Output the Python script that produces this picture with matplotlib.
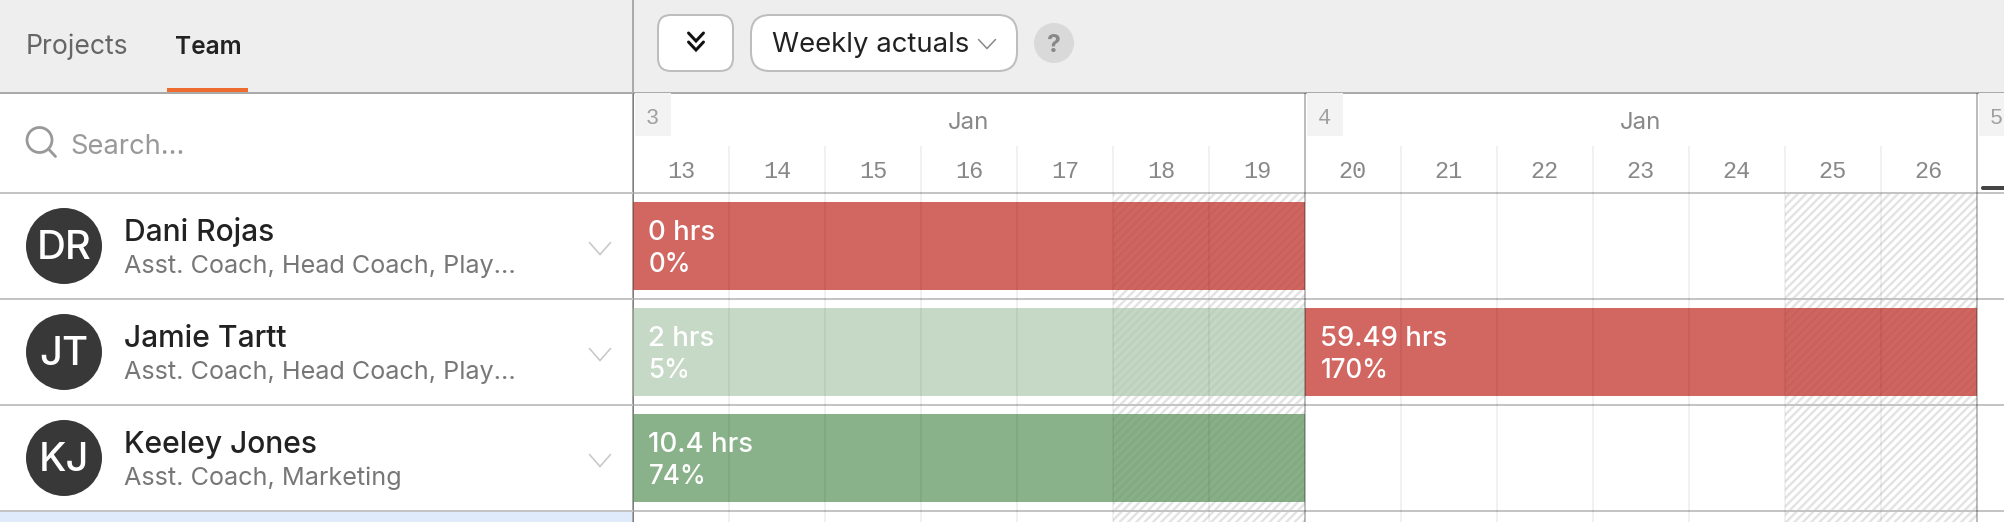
import matplotlib
matplotlib.use("Agg")
import matplotlib.pyplot as plt
from matplotlib.patches import FancyBboxPatch, Circle, Rectangle

W, H = 2004, 522
FONT = "Inter"
MONO = "Liberation Mono"

# --- data ---
people = ["Dani Rojas", "Jamie Tartt", "Keeley Jones"]
initials = ["DR", "JT", "KJ"]
roles = ["Asst. Coach, Head Coach, Play...", "Asst. Coach, Head Coach, Play...", "Asst. Coach, Marketing"]
week_numbers = [3, 4, 5]
week_months = ["Jan", "Jan"]
days = [13, 14, 15, 16, 17, 18, 19, 20, 21, 22, 23, 24, 25, 26]
weekend_days = [18, 19, 25, 26]
bar_rows = [0, 1, 1, 2]
bar_weeks = [0, 0, 1, 0]
bar_hours = ["0 hrs", "2 hrs", "59.49 hrs", "10.4 hrs"]
bar_percents = ["0%", "5%", "170%", "74%"]
bar_colors = ["#d26661", "#c6d9c6", "#d26661", "#8ab28a"]

# --- layout in pixels ---
DIV_X, HEAD_Y, ROW_TOP, ROW_H, DAY_W = 633, 93, 193, 106, 96
C_LINE, C_LINE_DK = "#c4c4c4", "#aaaaaa"
px = 0.72  # one pixel at dpi 100, in points

fig = plt.figure(figsize=(W / 100, H / 100), dpi=100, facecolor="white")
ui = fig.add_axes([0, 0, 1, 1], zorder=0)
ui.set_xlim(0, W); ui.set_ylim(H, 0); ui.axis("off")
g = fig.add_axes([DIV_X / W, 0, 1 - DIV_X / W, 1 - HEAD_Y / H], zorder=1)
g.set_xlim(0, (W - DIV_X) / DAY_W)
ys = lambda p: (p - ROW_TOP) / ROW_H
g.set_ylim(ys(H), ys(HEAD_Y)); g.axis("off")


def box(x0, y0, x1, y1, r, fc, ec="none", lw=0, z=2):
    ui.add_patch(FancyBboxPatch((x0 + r, y0 + r), x1 - x0 - 2 * r, y1 - y0 - 2 * r,
                                boxstyle=f"round,pad={r},rounding_size={r}", fc=fc, ec=ec,
                                lw=lw * px, zorder=z))


def txt(x, y, s, size, color, ha="left", weight="normal", family=FONT, z=5):
    ui.text(x, y, s, fontsize=size * px, color=color, ha=ha, va="baseline",
            weight=weight, family=family, zorder=z)


def chevron(cx, cy, w, h, color, lw):
    ui.plot([cx - w / 2, cx, cx + w / 2], [cy - h / 2, cy + h / 2, cy - h / 2], color=color,
            lw=lw * px, zorder=5, solid_capstyle="round", solid_joinstyle="miter")


# header band
ui.add_patch(Rectangle((0, 0), W, HEAD_Y, fc="#eeeeee", ec="none", zorder=1))
txt(26, 54.5, "Projects", 26.5, "#666666")
txt(175, 54.5, "Team", 24.5, "#222222", weight="semibold")
ui.add_patch(Rectangle((167, 88), 81, 4, fc="#ee6c2f", ec="none", zorder=2))

# toolbar
box(658, 15, 733, 71, 13, "white", "#bdbdbd", 2)
chevron(696, 37, 15, 8, "#111111", 3)
chevron(696, 46, 15, 8, "#111111", 3)
box(751, 15, 1017, 71, 19, "white", "#bdbdbd", 2)
txt(772, 52.5, "Weekly actuals", 27.5, "#222222")
chevron(987, 44, 17, 9, "#888888", 1.5)
ui.add_patch(Circle((1054, 43), 20, fc="#d9d9d9", ec="none", zorder=2))
txt(1054, 52, "?", 25, "#888888", ha="center", weight="bold")

# search
ui.add_patch(Circle((39.5, 140), 12.5, fc="none", ec="#999999", lw=2.8 * px, zorder=3))
ui.plot([48.5, 55.5], [149, 156.5], color="#999999", lw=2.8 * px, zorder=3, solid_capstyle="round")
txt(70, 153.5, "Search...", 27.3, "#999999")

# people
for i, (name, ini, role) in enumerate(zip(people, initials, roles)):
    top = ROW_TOP + i * ROW_H
    ui.add_patch(Circle((64, top + 53), 38, fc="#383838", ec="none", zorder=3))
    txt(64, top + 66, ini, 40, "white", ha="center", weight="medium")
    txt(124, top + 48, name, 30, "#222222", weight="medium")
    txt(124, top + 80, role, 25.2, "#777777")
    chevron(600, top + 55.5, 21, 12, "#c8c8c8", 1.6)

ui.add_patch(Rectangle((0, 512), DIV_X, 10, fc="#dfeafa", ec="none", zorder=1))

# weekend hatch on the white grid
plt.rcParams["hatch.linewidth"] = 2.4 * px
for d in weekend_days:
    k = days.index(d)
    g.bar(k + 0.5, ys(H), bottom=0, width=1, fc="none", ec=(0, 0, 0, 0.11),
          hatch="////", lw=0, zorder=1.5)

# gantt bars
for r, wk, hrs, pct, c in zip(bar_rows, bar_weeks, bar_hours, bar_percents, bar_colors):
    g.barh(r + 0.5, 7, left=wk * 7, height=88 / ROW_H, color=c, lw=0, zorder=2)
    for d in weekend_days:
        k = days.index(d)
        if wk * 7 <= k < (wk + 1) * 7:
            g.barh(r + 0.5, 1, left=k, height=88 / ROW_H, fc=(0, 0, 0, 0.006), ec=(0, 0, 0, 0.035),
                   hatch="////", lw=0, zorder=3)
    g.text(wk * 7 + 15.5 / DAY_W, r + 0.5 + (-6) / ROW_H, hrs, fontsize=27.5 * px, color="white",
           va="baseline", family=FONT, weight="medium", zorder=6)
    g.text(wk * 7 + 15.5 / DAY_W, r + 0.5 + 26 / ROW_H, pct, fontsize=26 * px, color="white",
           va="baseline", family=FONT, weight="medium", zorder=6)

# day & week grid lines
low = ys(H)
for k in range(len(days)):
    if k % 7:
        g.plot([k, k], [ys(146), low], color="black", alpha=0.055, lw=2 * px,
               solid_capstyle="butt", zorder=4)
    g.text(k + 0.5, ys(178), str(days[k]), fontsize=23.5 * px, color="#888888", ha="center",
           va="baseline", family=MONO, zorder=6)
for j, wn in enumerate(week_numbers):
    x = j * 7
    g.plot([x, x], [ys(HEAD_Y), low], color="black", alpha=0.26, lw=2 * px,
           solid_capstyle="butt", zorder=4)
    g.add_patch(FancyBboxPatch((x + 1.5 / DAY_W, ys(HEAD_Y)), 36 / DAY_W, ys(136) - ys(HEAD_Y),
                               boxstyle="square,pad=0", fc="#f3f3f3", ec="none", zorder=1))
    g.text(x + 19.5 / DAY_W, ys(124), str(wn), fontsize=22 * px, color="#a0a0a0", ha="center",
           va="baseline", family=MONO, zorder=6)
for j, m in enumerate(week_months):
    g.text(j * 7 + 3.5, ys(129), m, fontsize=24 * px, color="#888888", ha="center",
           va="baseline", family=FONT, zorder=6)

# horizontal rules
ui.plot([0, W], [HEAD_Y, HEAD_Y], color=C_LINE_DK, lw=2 * px, zorder=4, solid_capstyle="butt")
ui.plot([DIV_X, DIV_X], [0, H], color=C_LINE_DK, lw=2 * px, zorder=4, solid_capstyle="butt")
for i in range(4):
    y = ROW_TOP + i * ROW_H
    g.plot([-DIV_X / DAY_W, 15], [ys(y), ys(y)], color=C_LINE, lw=2 * px, zorder=3.5,
           solid_capstyle="butt", clip_on=False)
    ui.plot([0, DIV_X], [y, y], color=C_LINE, lw=2 * px, zorder=4, solid_capstyle="butt")

# today marker
box(1981, 186, 2010, 190, 2, "#444444", z=6)
ui.set_zorder(0)

fig.savefig("out.png", dpi=100, facecolor="white")
